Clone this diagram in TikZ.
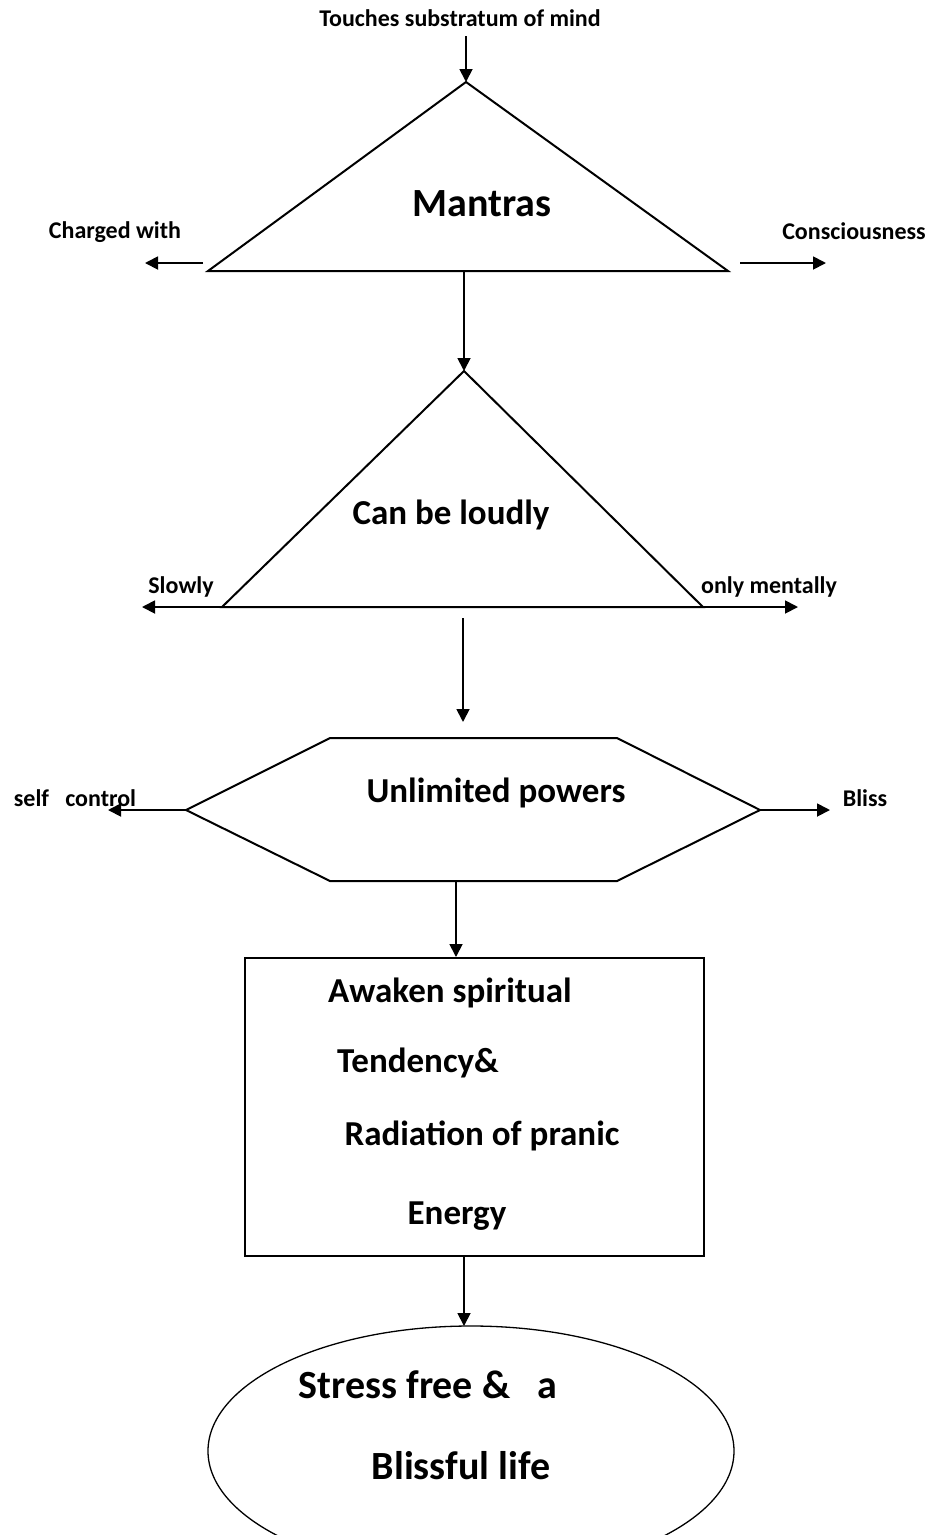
\documentclass[tikz,border=0pt]{standalone}
\usepackage{fontspec}
\setmainfont{Carlito}
\usetikzlibrary{arrows.meta}
\begin{document}
\begin{tikzpicture}[x=1pt,y=-1pt,
  shape line/.style={line width=2pt,line join=miter},
  flow/.style={line width=1.8pt,-{Triangle[length=13pt,width=13pt]}},
  lbl/.style={font=\fontsize{24}{28}\selectfont\bfseries,anchor=base,inner sep=0pt},
  mid/.style={font=\fontsize{35}{40}\selectfont\bfseries,anchor=base,inner sep=0pt},
  big/.style={font=\fontsize{40}{46}\selectfont\bfseries,anchor=base,inner sep=0pt}]
\useasboundingbox (0,0) rectangle (936,1535);

% first triangle
\coordinate (t1a) at (466,82);
\coordinate (t1l) at (208,271);
\coordinate (t1r) at (728,271);
\coordinate (t1b) at (464,271);
\draw[shape line] (t1a) -- (t1r) -- (t1l) -- cycle;
\node[big] (mantras) at (482,216) {Mantras};

\node[lbl] (touch) at (460,26) {Touches substratum of mind};
\coordinate (touchend) at (466,36);
\draw[flow] (touchend) -- (t1a);

\node[lbl] (charged) at (115,238) {Charged with};
\node[lbl] (conscious) at (854,239) {Consciousness};
\coordinate (c1s) at (203,263);
\coordinate (c1e) at (145,263);
\coordinate (c2s) at (740,263);
\coordinate (c2e) at (826,263);
\draw[flow] (c1s) -- (c1e);
\draw[flow] (c2s) -- (c2e);

% second triangle
\coordinate (t2a) at (464,371);
\coordinate (t2l) at (222,607);
\coordinate (t2r) at (703,607);
\draw[shape line] (t2a) -- (t2r) -- (t2l) -- cycle;
\node[mid] (loud) at (451,524) {Can be loudly};
\draw[flow] (t1b) -- (t2a);

\node[lbl] (slowly) at (181,593) {Slowly};
\node[lbl] (mentally) at (769,593) {only mentally};
\coordinate (sl) at (142,607);
\coordinate (mr) at (798,607);
\draw[flow] (t2l) -- (sl);
\draw[flow] (t2r) -- (mr);

% hexagon
\coordinate (h1) at (330,738);
\coordinate (h2) at (617,738);
\coordinate (h3) at (760,810);
\coordinate (h4) at (617,881);
\coordinate (h5) at (330,881);
\coordinate (h6) at (186,810);
\coordinate (hbot) at (456,881);
\draw[shape line] (h1) -- (h2) -- (h3) -- (h4) -- (h5) -- (h6) -- cycle;
\node[mid] (powers) at (496,802) {Unlimited powers};
\coordinate (t2b) at (463,618);
\coordinate (hin) at (463,722);
\draw[flow] (t2b) -- (hin);

\node[lbl] (selfc) at (75,806) {self\ \ \ control};
\node[lbl] (bliss) at (865,806) {Bliss};
\coordinate (scl) at (108,810);
\coordinate (blr) at (830,810);
\draw[flow] (h6) -- (scl);
\draw[flow] (h3) -- (blr);

% box
\node[shape line,draw,minimum width=459pt,minimum height=298pt,anchor=north west,inner sep=0pt] (box) at (244,957) {};
\draw[flow] (hbot) -- (box.north -| hbot);
\node[mid] (aw) at (450,1002) {Awaken spiritual};
\node[mid] (tend) at (418,1072) {Tendency\&};
\node[mid] (rad) at (482,1145) {Radiation of pranic};
\node[mid] (en) at (457,1224) {Energy};

% ellipse
\draw[line width=1.3pt] (471,1451) ellipse [x radius=263,y radius=125];
\coordinate (etop) at (464,1326);
\coordinate (bboteq) at (464,1255);
\draw[flow] (bboteq) -- (etop);
\node[big] (stress) at (428,1398) {Stress free \&\ \ \ a};
\node[big] (life) at (461,1479) {Blissful life};
\end{tikzpicture}
\end{document}
